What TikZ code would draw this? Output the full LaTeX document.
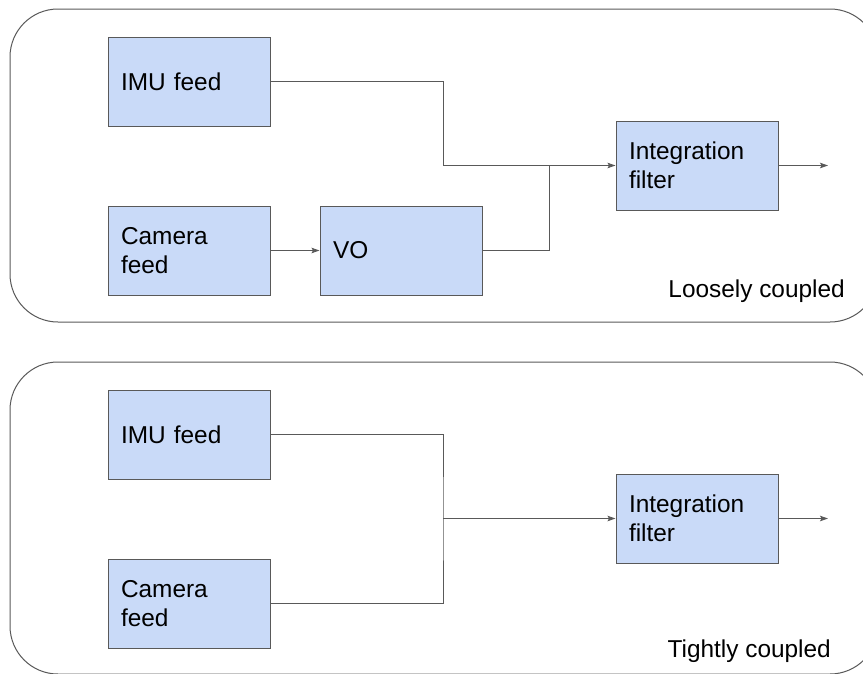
\documentclass[tikz,border=0pt]{standalone}
\usepackage{fontspec}
\setmainfont{Liberation Sans}
\usetikzlibrary{positioning, arrows.meta}
\definecolor{boxblue}{HTML}{C9DAF8}
\definecolor{linegrey}{HTML}{595959}

\begin{document}
\begin{tikzpicture}[x=1pt, y=-1pt,
		block/.style={draw=linegrey, fill=boxblue, line width=1pt, inner sep=0pt,
			minimum width=162pt, minimum height=89pt, text width=136pt, align=left,
			font=\fontsize{24.4}{29}\selectfont},
		frame/.style={draw=linegrey, line width=1pt, rounded corners=48pt},
		link/.style={draw=linegrey, line width=1pt},
		flow/.style={link, -{Stealth[length=8pt, width=5.5pt, inset=1.5pt]}},
		tag/.style={font=\fontsize{24.4}{29}\selectfont, inner sep=0pt}]
				\useasboundingbox (0,0) rectangle (863,673);

				\draw[frame] (10,9) rectangle (878,322);
				\draw[frame] (10,362) rectangle (878,674);

				\node[block] (imuA) at (189,81.5) {IMU feed};
				\node[block] (camA) at (189,250.5) {Camera\\feed};
				\node[block] (vo) at (401,250.5) {VO};
				\node[block] (filterA) at (697,165.5) {Integration\\filter};
				\node[tag, anchor=base east] (looseTag) at (845,297) {Loosely coupled};
				\coordinate (bendA) at (443,165.5);
				\coordinate (joinA) at (549,165.5);
				\coordinate (outA) at (828,165.5);

				\node[block] (imuB) at (189,434.5) {IMU feed};
				\node[block] (camB) at (189,603.5) {Camera\\feed};
				\node[block] (filterB) at (697,518.5) {Integration\\filter};
				\node[tag, anchor=base east] (tightTag) at (831,657) {Tightly coupled};
				\coordinate (joinB) at (443,518.5);
				\coordinate (outB) at (828,518.5);

				\draw[link] (imuA.east) -| (bendA) -- (joinA);
				\draw[link] (vo.east) -| (joinA);
				\draw[flow] (joinA) -- (filterA.west);
				\draw[flow] (camA.east) -- (vo.west);
				\draw[flow] (filterA.east) -- (outA);

				\draw[link] (imuB.east) -| (joinB) |- (camB.east);
				\draw[flow] (joinB) -- (filterB.west);
				\draw[flow] (filterB.east) -- (outB);
			\end{tikzpicture}
\end{document}
